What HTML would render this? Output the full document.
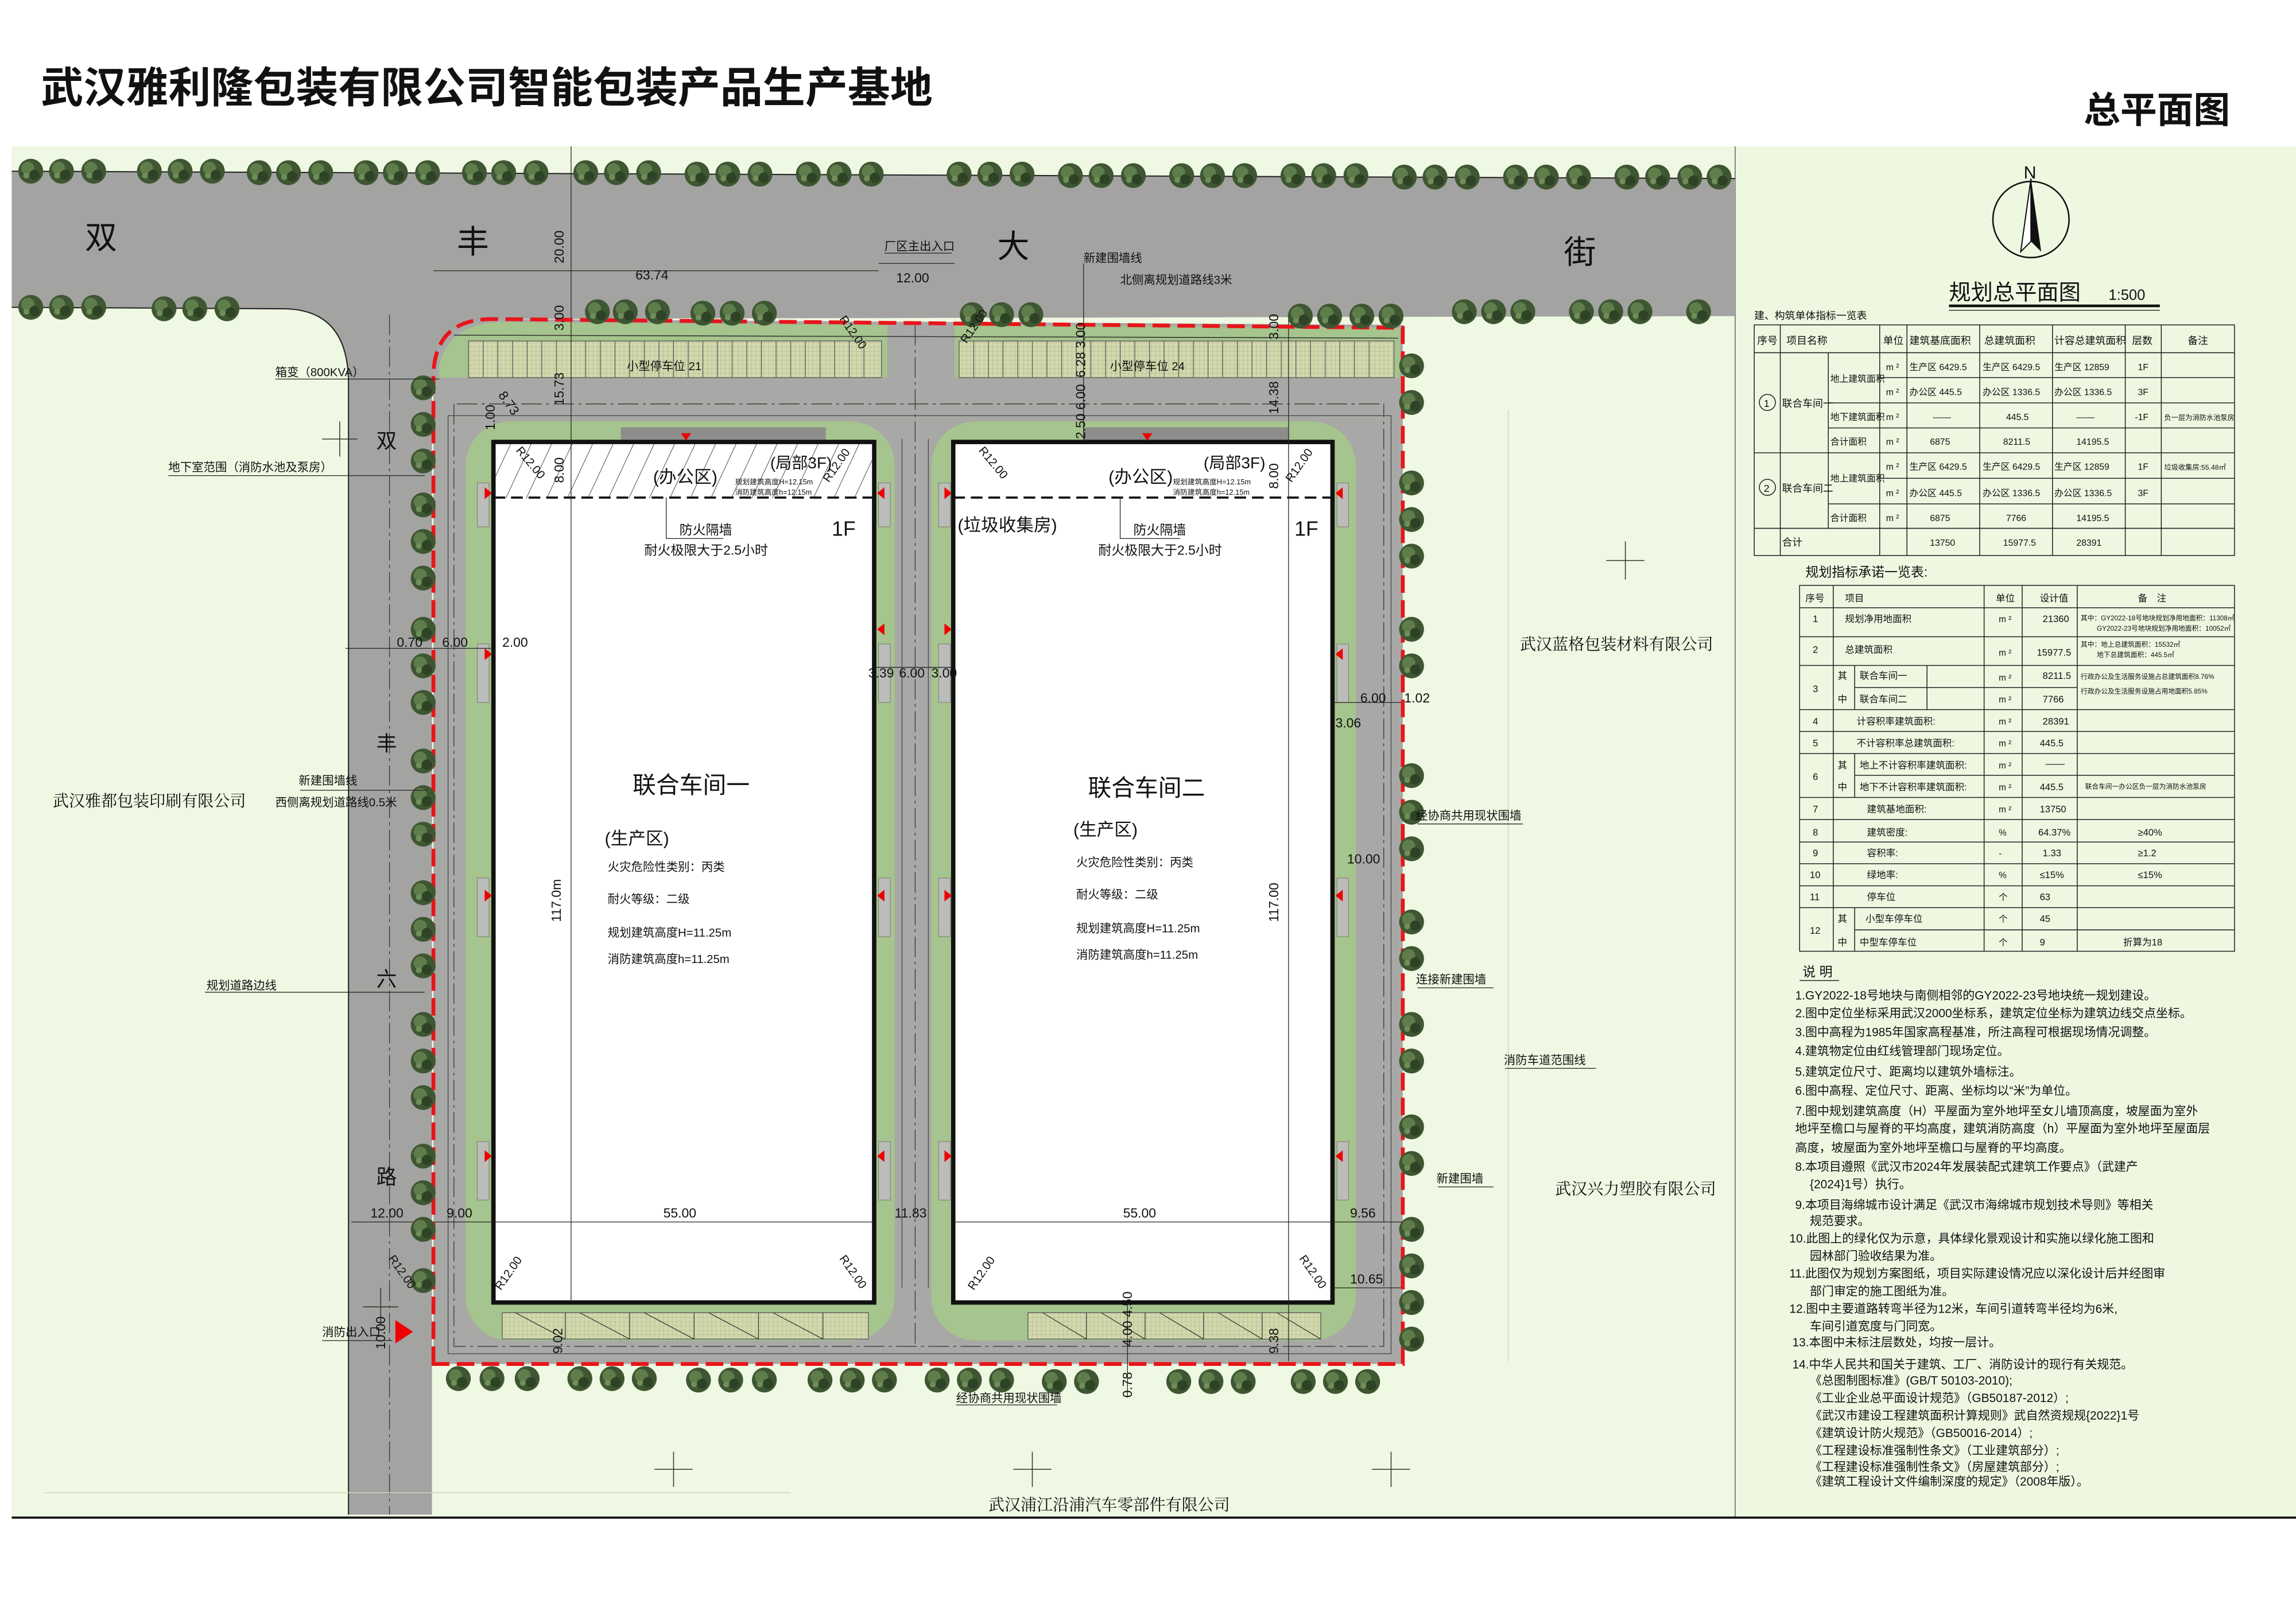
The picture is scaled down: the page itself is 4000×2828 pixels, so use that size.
<!DOCTYPE html>
<html><head><meta charset="utf-8">
<style>
html,body{margin:0;padding:0;background:#fff;}
svg{display:block;}
text{font-family:"Liberation Sans","Noto Sans CJK SC",sans-serif;fill:#111;}
</style></head>
<body>
<svg width="4000" height="2828" viewBox="0 0 1568 1109" preserveAspectRatio="none" xmlns="http://www.w3.org/2000/svg">
<defs>
<pattern id="pk" width="3" height="3" patternUnits="userSpaceOnUse"><rect width="3" height="3" fill="#d3d8ad"/><path d="M0 0H3M0 0V3" stroke="#a9ae85" stroke-width="0.4"/></pattern>
<pattern id="hatch" width="14" height="38" patternUnits="userSpaceOnUse" patternTransform="skewX(-25)"><rect width="14" height="38" fill="#fff"/><line x1="0" y1="0" x2="0" y2="38" stroke="#222" stroke-width="0.7"/></pattern>
<g id="tr"><circle r="8.5" fill="#3e5632"/><circle cx="-2" cy="-2" r="4.5" fill="#5f7d4b"/><circle cx="2.5" cy="2.5" r="3.5" fill="#2e4226"/><circle cx="-3" cy="3" r="2" fill="#6f8e59"/></g>
<g id="rt"><polygon points="0,-4 5,0 0,4" fill="#e00"/></g>
<g id="lt"><polygon points="0,-4 -5,0 0,4" fill="#e00"/></g>
</defs>

<text x="28" y="70" font-size="29" font-weight="bold">武汉雅利隆包装有限公司智能包装产品生产基地</text>
<text x="1423" y="84" font-size="25" font-weight="bold">总平面图</text>

<rect x="8" y="100" width="1177" height="937" fill="#eff8e2"/>
<rect x="1185" y="100" width="383" height="937" fill="#eef8e1"/>
<line x1="1185" y1="100" x2="1185" y2="1037" stroke="#888" stroke-width="0.8"/>
<line x1="8" y1="1037" x2="1568" y2="1037" stroke="#111" stroke-width="1.5"/>

<path d="M8,117 L1185,122 L1185,216 L300,218 L295,230 L295,1035 L238,1035 L238,262 Q238,212 195,211 L8,210 Z" fill="#a3a3a1"/>
<path d="M8,117 L1185,122" stroke="#222" stroke-width="0.8" fill="none"/>
<path d="M8,210 L195,211 Q238,212 238,262 L238,1035" stroke="#222" stroke-width="0.8" fill="none"/>

<rect x="294" y="214" width="50" height="50" fill="#a3a3a1"/>
<path d="M296,932 L296,258 Q296,218 336,218 L958,222 L958,932 Z" fill="#a8a8a6"/>
<path d="M300,258 L300,250 Q306,222 340,220 L606,222 L606,258 Z" fill="#a6c48d"/>
<path d="M652,222 L956,224 L956,258 L652,258 Z" fill="#a6c48d"/>
<rect x="320" y="233" width="282" height="25" fill="url(#pk)" stroke="#555" stroke-width="0.5"/>
<rect x="655" y="233" width="297" height="25" fill="url(#pk)" stroke="#555" stroke-width="0.5"/>
<g stroke="#555" stroke-width="0.5">
<path d="M330,233V258M340,233V258M350,233V258M360,233V258M370,233V258M380,233V258M400,233V258M410,233V258M420,233V258M430,233V258M440,233V258M450,233V258M460,233V258M470,233V258M480,233V258M490,233V258M500,233V258M510,233V258M520,233V258M530,233V258M540,233V258M550,233V258M560,233V258M570,233V258M580,233V258M590,233V258"/>
<path d="M665,233V258M675,233V258M685,233V258M695,233V258M705,233V258M715,233V258M725,233V258M735,233V258M745,233V258M755,233V258M765,233V258M775,233V258M785,233V258M795,233V258M805,233V258M815,233V258M825,233V258M835,233V258M845,233V258M855,233V258M865,233V258M875,233V258M885,233V258M895,233V258M905,233V258M915,233V258M925,233V258M935,233V258"/>
</g>
<path d="M310,229 L955,231" stroke="#333" stroke-width="0.6" fill="none"/>

<rect x="318" y="288" width="293" height="628" rx="30" fill="#a6c48d"/>
<rect x="636" y="288" width="290" height="628" rx="30" fill="#a6c48d"/>
<rect x="424" y="292" width="140" height="10" fill="#8d8d8b"/>
<rect x="740" y="292" width="140" height="10" fill="#8d8d8b"/>
<rect x="343" y="897" width="250" height="18" fill="url(#pk)" stroke="#555" stroke-width="0.5"/>
<rect x="702" y="897" width="200" height="18" fill="url(#pk)" stroke="#555" stroke-width="0.5"/>
<g stroke="#333" stroke-width="0.5">
<path d="M386,897V915M430,897V915M474,897V915M518,897V915M562,897V915M352,897L386,915M396,897L430,915M440,897L474,915M484,897L518,915M528,897L562,915"/>
<path d="M742,897V915M782,897V915M822,897V915M862,897V915M712,897L742,915M752,897L782,915M792,897L822,915M832,897L862,915M872,897L902,915"/>
</g>
<g fill="#bcbcba" stroke="#666" stroke-width="0.3">
<rect x="326" y="330" width="8" height="30"/><rect x="326" y="440" width="8" height="40"/><rect x="326" y="600" width="8" height="40"/><rect x="326" y="780" width="8" height="40"/>
<rect x="600" y="330" width="8" height="30"/><rect x="600" y="440" width="8" height="40"/><rect x="600" y="600" width="8" height="40"/><rect x="600" y="780" width="8" height="40"/>
<rect x="641" y="330" width="8" height="30"/><rect x="641" y="440" width="8" height="40"/><rect x="641" y="600" width="8" height="40"/><rect x="641" y="780" width="8" height="40"/>
<rect x="913" y="330" width="8" height="30"/><rect x="913" y="440" width="8" height="40"/><rect x="913" y="600" width="8" height="40"/><rect x="913" y="780" width="8" height="40"/>
</g>

<g stroke="#333" stroke-width="0.5" stroke-dasharray="14,3,2,3" fill="none">
<path d="M312,276 L945,276"/><path d="M310,276 L310,920 L945,920 L945,276"/>
<path d="M625,222 L625,920"/>
<path d="M266,215 L266,1035"/>
</g>
<g stroke="#444" stroke-width="0.5" fill="none">
<path d="M306,284 L306,925 L950,925 L950,284 Z"/>
<path d="M616,300 L616,880 M634,300 L634,880"/>
</g>

<rect x="337" y="302" width="260" height="588" fill="#fff" stroke="#111" stroke-width="3"/>
<rect x="338.5" y="303.5" width="257" height="37" fill="url(#hatch)"/>
<line x1="337" y1="340" x2="597" y2="340" stroke="#111" stroke-width="1.5" stroke-dasharray="8,4"/>
<rect x="651" y="302" width="259" height="588" fill="#fff" stroke="#111" stroke-width="3"/>
<line x1="651" y1="340" x2="910" y2="340" stroke="#111" stroke-width="1.5" stroke-dasharray="8,4"/>
<line x1="390" y1="100" x2="390" y2="890" stroke="#222" stroke-width="0.5"/>
<line x1="880" y1="215" x2="880" y2="930" stroke="#222" stroke-width="0.5"/>
<line x1="740" y1="180" x2="740" y2="302" stroke="#222" stroke-width="0.5"/>
<line x1="337" y1="835" x2="597" y2="835" stroke="#222" stroke-width="0.5"/>
<line x1="651" y1="835" x2="910" y2="835" stroke="#222" stroke-width="0.5"/>
<line x1="240" y1="835" x2="337" y2="835" stroke="#222" stroke-width="0.5"/>
<line x1="910" y1="835" x2="958" y2="835" stroke="#222" stroke-width="0.5"/>
<line x1="597" y1="456" x2="651" y2="456" stroke="#222" stroke-width="0.5"/>
<line x1="236" y1="443" x2="337" y2="443" stroke="#222" stroke-width="0.5"/>
<line x1="910" y1="480" x2="958" y2="480" stroke="#222" stroke-width="0.5"/>
<line x1="910" y1="880" x2="958" y2="880" stroke="#222" stroke-width="0.5"/>
<line x1="296" y1="185" x2="600" y2="185" stroke="#222" stroke-width="0.5"/>
<line x1="600" y1="180" x2="652" y2="180" stroke="#222" stroke-width="0.5"/>
<line x1="770" y1="890" x2="770" y2="955" stroke="#222" stroke-width="0.5"/>

<path d="M296,932 L296,258 Q296,218 336,218 L958,224 L958,932 Z" fill="none" stroke="#e8151b" stroke-width="2.6" stroke-dasharray="12,5"/>
<polygon points="270,902 282,910 270,918" fill="#e00"/>

<g>
<use href="#rt" x="331" y="337"/><use href="#rt" x="331" y="447"/><use href="#rt" x="331" y="612"/><use href="#rt" x="331" y="790"/>
<use href="#lt" x="604" y="337"/><use href="#lt" x="604" y="430"/><use href="#lt" x="604" y="612"/><use href="#lt" x="604" y="790"/>
<use href="#rt" x="645" y="337"/><use href="#rt" x="645" y="430"/><use href="#rt" x="645" y="612"/><use href="#rt" x="645" y="790"/>
<use href="#lt" x="917" y="337"/><use href="#lt" x="917" y="447"/><use href="#lt" x="917" y="612"/><use href="#lt" x="917" y="790"/>
<polygon points="465,296 472,296 468.5,301" fill="#e00"/><polygon points="780,296 787,296 783.5,301" fill="#e00"/>
</g>

<g>
<use href="#tr" x="21" y="117"/><use href="#tr" x="42" y="117"/><use href="#tr" x="64" y="117"/>
<use href="#tr" x="102" y="117"/><use href="#tr" x="123" y="117"/><use href="#tr" x="145" y="117"/>
<use href="#tr" x="177" y="118"/><use href="#tr" x="197" y="118"/><use href="#tr" x="219" y="118"/>
<use href="#tr" x="250" y="118"/><use href="#tr" x="270" y="118"/><use href="#tr" x="292" y="118"/>
<use href="#tr" x="324" y="118"/><use href="#tr" x="344" y="118"/><use href="#tr" x="366" y="118"/>
<use href="#tr" x="400" y="118"/><use href="#tr" x="421" y="118"/><use href="#tr" x="443" y="118"/>
<use href="#tr" x="476" y="119"/><use href="#tr" x="497" y="119"/><use href="#tr" x="519" y="119"/>
<use href="#tr" x="552" y="119"/><use href="#tr" x="573" y="119"/><use href="#tr" x="595" y="119"/>
<use href="#tr" x="655" y="119"/><use href="#tr" x="676" y="119"/><use href="#tr" x="698" y="119"/>
<use href="#tr" x="731" y="120"/><use href="#tr" x="752" y="120"/><use href="#tr" x="774" y="120"/>
<use href="#tr" x="807" y="120"/><use href="#tr" x="828" y="120"/><use href="#tr" x="850" y="120"/>
<use href="#tr" x="883" y="120"/><use href="#tr" x="904" y="120"/><use href="#tr" x="926" y="120"/>
<use href="#tr" x="959" y="121"/><use href="#tr" x="980" y="121"/><use href="#tr" x="1002" y="121"/>
<use href="#tr" x="1035" y="121"/><use href="#tr" x="1056" y="121"/><use href="#tr" x="1078" y="121"/>
<use href="#tr" x="1111" y="121"/><use href="#tr" x="1132" y="121"/><use href="#tr" x="1154" y="121"/><use href="#tr" x="1174" y="121"/>
<use href="#tr" x="21" y="210"/><use href="#tr" x="42" y="210"/><use href="#tr" x="64" y="210"/>
<use href="#tr" x="112" y="211"/><use href="#tr" x="133" y="211"/><use href="#tr" x="155" y="211"/>
<use href="#tr" x="1000" y="213"/><use href="#tr" x="1020" y="213"/><use href="#tr" x="1040" y="213"/>
<use href="#tr" x="1080" y="213"/><use href="#tr" x="1100" y="213"/><use href="#tr" x="1120" y="213"/><use href="#tr" x="1160" y="213"/>
<use href="#tr" x="408" y="213"/><use href="#tr" x="427" y="213"/><use href="#tr" x="449" y="213"/><use href="#tr" x="480" y="214"/><use href="#tr" x="500" y="214"/><use href="#tr" x="522" y="214"/>
<use href="#tr" x="664" y="215"/><use href="#tr" x="684" y="215"/><use href="#tr" x="704" y="215"/><use href="#tr" x="888" y="216"/><use href="#tr" x="908" y="216"/><use href="#tr" x="930" y="216"/><use href="#tr" x="950" y="216"/>
<use href="#tr" x="289" y="265"/><use href="#tr" x="289" y="290"/><use href="#tr" x="289" y="315"/><use href="#tr" x="289" y="345"/><use href="#tr" x="289" y="370"/><use href="#tr" x="289" y="395"/><use href="#tr" x="289" y="430"/><use href="#tr" x="289" y="455"/><use href="#tr" x="289" y="480"/><use href="#tr" x="289" y="520"/><use href="#tr" x="289" y="545"/><use href="#tr" x="289" y="570"/><use href="#tr" x="289" y="610"/><use href="#tr" x="289" y="635"/><use href="#tr" x="289" y="660"/><use href="#tr" x="289" y="700"/><use href="#tr" x="289" y="725"/><use href="#tr" x="289" y="750"/><use href="#tr" x="289" y="790"/><use href="#tr" x="289" y="815"/><use href="#tr" x="289" y="840"/><use href="#tr" x="289" y="875"/>
<use href="#tr" x="964" y="250"/><use href="#tr" x="964" y="275"/><use href="#tr" x="964" y="330"/><use href="#tr" x="964" y="355"/><use href="#tr" x="964" y="380"/><use href="#tr" x="964" y="430"/><use href="#tr" x="964" y="455"/><use href="#tr" x="964" y="530"/><use href="#tr" x="964" y="555"/><use href="#tr" x="964" y="580"/><use href="#tr" x="964" y="630"/><use href="#tr" x="964" y="655"/><use href="#tr" x="964" y="700"/><use href="#tr" x="964" y="725"/><use href="#tr" x="964" y="770"/><use href="#tr" x="964" y="795"/><use href="#tr" x="964" y="840"/><use href="#tr" x="964" y="865"/><use href="#tr" x="964" y="890"/><use href="#tr" x="964" y="915"/>
<use href="#tr" x="313" y="942"/><use href="#tr" x="336" y="942"/><use href="#tr" x="360" y="942"/><use href="#tr" x="396" y="942"/><use href="#tr" x="418" y="942"/><use href="#tr" x="440" y="942"/><use href="#tr" x="477" y="943"/><use href="#tr" x="499" y="943"/><use href="#tr" x="522" y="943"/><use href="#tr" x="560" y="943"/><use href="#tr" x="582" y="943"/><use href="#tr" x="604" y="943"/><use href="#tr" x="640" y="943"/><use href="#tr" x="662" y="943"/><use href="#tr" x="684" y="943"/><use href="#tr" x="720" y="944"/><use href="#tr" x="742" y="944"/><use href="#tr" x="805" y="944"/><use href="#tr" x="827" y="944"/><use href="#tr" x="849" y="944"/><use href="#tr" x="890" y="944"/><use href="#tr" x="912" y="944"/><use href="#tr" x="934" y="944"/>
</g>

<g stroke="#333" stroke-width="0.6">
<path d="M232,288V312M220,300H244"/><path d="M1110,370V396M1097,383H1123"/><path d="M460,992V1016M447,1004H473"/><path d="M705,992V1016M692,1004H718"/><path d="M950,992V1016M937,1004H963"/><path d="M260,880V905M248,893H272"/>
</g>
<line x1="30" y1="1020" x2="540" y2="1020" stroke="#ccd6bb" stroke-width="0.6"/>
<line x1="1030" y1="280" x2="1030" y2="930" stroke="#ccd6bb" stroke-width="0.6"/>

<g font-size="22">
<text x="58" y="170">双</text><text x="312" y="173">丰</text><text x="681" y="176">大</text><text x="1068" y="180">街</text>
</g>
<g font-size="14">
<text x="257" y="306">双</text><text x="257" y="513">丰</text><text x="257" y="674">六</text><text x="257" y="809">路</text>
</g>

<text x="432" y="542" font-size="16">联合车间一</text>
<text x="413" y="577" font-size="12">(生产区)</text>
<g font-size="8">
<text x="415" y="595">火灾危险性类别：丙类</text><text x="415" y="617">耐火等级：二级</text><text x="415" y="640">规划建筑高度H=11.25m</text><text x="415" y="658">消防建筑高度h=11.25m</text>
</g>
<text x="743" y="544" font-size="16">联合车间二</text>
<text x="733" y="571" font-size="12">(生产区)</text>
<g font-size="8">
<text x="735" y="592">火灾危险性类别：丙类</text><text x="735" y="614">耐火等级：二级</text><text x="735" y="637">规划建筑高度H=11.25m</text><text x="735" y="655">消防建筑高度h=11.25m</text>
</g>
<text x="446" y="330" font-size="12">(办公区)</text>
<text x="526" y="320" font-size="11">(局部3F)</text>
<text x="502" y="331" font-size="5">规划建筑高度H=12.15m</text><text x="502" y="338" font-size="5">消防建筑高度h=12.15m</text>
<text x="757" y="330" font-size="12">(办公区)</text>
<text x="822" y="320" font-size="11">(局部3F)</text>
<text x="801" y="331" font-size="5">规划建筑高度H=12.15m</text><text x="801" y="338" font-size="5">消防建筑高度h=12.15m</text>
<text x="654" y="363" font-size="12">(垃圾收集房)</text>
<text x="464" y="365" font-size="9">防火隔墙</text><text x="440" y="379" font-size="9">耐火极限大于2.5小时</text>
<text x="774" y="365" font-size="9">防火隔墙</text><text x="750" y="379" font-size="9">耐火极限大于2.5小时</text>
<text x="568" y="366" font-size="14">1F</text><text x="884" y="366" font-size="14">1F</text>
<path d="M455,340V368H494M765,340V368H806" stroke="#222" stroke-width="0.5" fill="none"/>

<g font-size="9">
<text x="434" y="191">63.74</text><text x="612" y="193">12.00</text><text x="604" y="171" font-size="8">厂区主出入口</text>
<text x="740" y="179" font-size="8">新建围墙线</text><text x="765" y="194" font-size="8">北侧离规划道路线3米</text>
<text x="188" y="257" font-size="8">箱变（800KVA）</text><text x="115" y="322" font-size="8">地下室范围（消防水池及泵房）</text>
<text x="271" y="442">0.70</text><text x="302" y="442">6.00</text><text x="343" y="442">2.00</text>
<text x="204" y="536" font-size="8">新建围墙线</text><text x="188" y="551" font-size="8">西侧离规划道路线0.5米</text>
<text x="141" y="676" font-size="8">规划道路边线</text>
<text x="253" y="832">12.00</text><text x="305" y="832">9.00</text><text x="453" y="832">55.00</text><text x="611" y="832">11.83</text><text x="767" y="832">55.00</text><text x="922" y="832">9.56</text>
<text x="220" y="913" font-size="8">消防出入口</text>
<text x="653" y="958" font-size="8">经协商共用现状围墙</text>
<text x="967" y="560" font-size="8">经协商共用现状围墙</text>
<text x="967" y="672" font-size="8">连接新建围墙</text>
<text x="1027" y="727" font-size="8">消防车道范围线</text>
<text x="981" y="808" font-size="8">新建围墙</text>
<text x="593" y="463">3.39</text><text x="614" y="463">6.00</text><text x="636" y="463">3.00</text>
<text x="929" y="480">6.00</text><text x="959" y="480">1.02</text><text x="912" y="497">3.06</text>
<text x="920" y="590">10.00</text><text x="922" y="877">10.65</text>
<text x="428" y="253" font-size="8">小型停车位 21</text><text x="758" y="253" font-size="8">小型停车位 24</text>
</g>
<g font-size="9">
<text transform="translate(385,180) rotate(-90)">20.00</text>
<text transform="translate(385,277) rotate(-90)">15.73</text>
<text transform="translate(385,226) rotate(-90)">3.00</text>
<text transform="translate(385,330) rotate(-90)">8.00</text>
<text transform="translate(383,630) rotate(-90)">117.0m</text>
<text transform="translate(873,630) rotate(-90)">117.00</text>
<text transform="translate(873,334) rotate(-90)">8.00</text>
<text transform="translate(873,283) rotate(-90)">14.38</text>
<text transform="translate(873,232) rotate(-90)">3.00</text>
<text transform="translate(741,258) rotate(-90)">6.28 3.00</text>
<text transform="translate(741,300) rotate(-90)">2.50 6.00</text>
<text transform="translate(384,925) rotate(-90)">9.02</text>
<text transform="translate(873,925) rotate(-90)">9.38</text>
<text transform="translate(773,920) rotate(-90)">4.00 4.50</text>
<text transform="translate(773,955) rotate(-90)">0.78</text>
<text transform="translate(263,922) rotate(-90)">10.00</text>
<text transform="translate(338,294) rotate(-90)">1.00</text>
<text transform="translate(340,270) rotate(55)">8.73</text>
</g>
<g font-size="8">
<text transform="translate(352,308) rotate(50)">R12.00</text>
<text transform="translate(566,330) rotate(-55)">R12.00</text>
<text transform="translate(668,308) rotate(50)">R12.00</text>
<text transform="translate(882,330) rotate(-55)">R12.00</text>
<text transform="translate(573,218) rotate(55)">R12.00</text>
<text transform="translate(660,235) rotate(-55)">R12.00</text>
<text transform="translate(342,882) rotate(-55)">R12.00</text>
<text transform="translate(573,860) rotate(55)">R12.00</text>
<text transform="translate(665,882) rotate(-55)">R12.00</text>
<text transform="translate(887,860) rotate(55)">R12.00</text>
<text transform="translate(265,860) rotate(55)">R12.00</text>
</g>
<g stroke="#222" stroke-width="0.5" fill="none">
<path d="M115,325H290M188,259H300M140,678H290M205,540H292M968,563H1040M968,675H1020M1028,730H1090M982,811H1020M653,960H722M220,916H268M604,173H650"/>
</g>

<g font-size="11">
<text x="36" y="551" style="font-family:'Liberation Serif','Noto Serif CJK SC',serif">武汉雅都包装印刷有限公司</text>
<text x="1038" y="444" style="font-family:'Liberation Serif','Noto Serif CJK SC',serif">武汉蓝格包装材料有限公司</text>
<text x="1062" y="816" style="font-family:'Liberation Serif','Noto Serif CJK SC',serif">武汉兴力塑胶有限公司</text>
<text x="675" y="1032" style="font-family:'Liberation Serif','Noto Serif CJK SC',serif">武汉浦江沿浦汽车零部件有限公司</text>
</g>

<circle cx="1387" cy="150" r="26" fill="none" stroke="#111" stroke-width="1"/>
<polygon points="1387,122 1380,172 1387,165" fill="#fff" stroke="#111" stroke-width="0.8"/>
<polygon points="1387,122 1394,172 1387,165" fill="#111"/>
<text x="1382" y="122" font-size="12">N</text>
<text x="1331" y="205" font-size="15">规划总平面图</text><text x="1440" y="205" font-size="10">1:500</text>
<line x1="1331" y1="209" x2="1475" y2="209" stroke="#111" stroke-width="1.8"/>
<line x1="1331" y1="212" x2="1475" y2="212" stroke="#111" stroke-width="0.5"/>

<text x="1198" y="218" font-size="7">建、构筑单体指标一览表</text>
<g stroke="#222" stroke-width="0.6" fill="none">
<rect x="1198" y="222" width="328" height="157.6"/>
<path d="M1215.8,222V379.6M1283.7,222V379.6M1302.3,222V379.6M1352,222V379.6M1401.7,222V379.6M1451.4,222V379.6M1476,222V379.6M1248.6,241V361"/>
<path d="M1198,241H1526M1283.7,258H1526M1248.6,275.3H1526M1248.6,292.4H1526M1198,309.4H1526M1283.7,326.8H1526M1248.6,344.3H1526M1198,361H1526"/>
</g>
<g font-size="7">
<text x="1200" y="235">序号</text><text x="1220" y="235">项目名称</text><text x="1286" y="235">单位</text><text x="1304" y="235">建筑基底面积</text><text x="1355" y="235">总建筑面积</text><text x="1403" y="235">计容总建筑面积</text><text x="1456" y="235">层数</text><text x="1494" y="235">备注</text>
<text x="1217" y="278">联合车间一</text><text x="1217" y="336">联合车间二</text>
<text x="1217" y="373">合计</text>
</g>
<circle cx="1207" cy="275" r="5.5" fill="none" stroke="#222" stroke-width="0.6"/><text x="1204.5" y="278" font-size="7">1</text>
<circle cx="1207" cy="333" r="5.5" fill="none" stroke="#222" stroke-width="0.6"/><text x="1204.5" y="336" font-size="7">2</text>
<g font-size="6.2">
<text x="1250" y="261">地上建筑面积</text><text x="1250" y="287">地下建筑面积</text><text x="1250" y="304">合计面积</text>
<text x="1250" y="329">地上建筑面积</text><text x="1250" y="356">合计面积</text>
<text x="1288" y="253">m ²</text><text x="1288" y="270">m ²</text><text x="1288" y="287">m ²</text><text x="1288" y="304">m ²</text><text x="1288" y="321">m ²</text><text x="1288" y="339">m ²</text><text x="1288" y="356">m ²</text>
<text x="1304" y="253">生产区  6429.5</text><text x="1304" y="270">办公区  445.5</text><text x="1320" y="287">——</text><text x="1318" y="304">6875</text>
<text x="1354" y="253">生产区  6429.5</text><text x="1354" y="270">办公区  1336.5</text><text x="1370" y="287">445.5</text><text x="1368" y="304">8211.5</text>
<text x="1403" y="253">生产区  12859</text><text x="1403" y="270">办公区  1336.5</text><text x="1418" y="287">——</text><text x="1418" y="304">14195.5</text>
<text x="1460" y="253">1F</text><text x="1460" y="270">3F</text><text x="1458" y="287">-1F</text><text x="1478" y="287" font-size="4.8">负一层为消防水池泵房</text>
<text x="1304" y="321">生产区  6429.5</text><text x="1304" y="339">办公区  445.5</text><text x="1318" y="356">6875</text>
<text x="1354" y="321">生产区  6429.5</text><text x="1354" y="339">办公区  1336.5</text><text x="1370" y="356">7766</text>
<text x="1403" y="321">生产区  12859</text><text x="1403" y="339">办公区  1336.5</text><text x="1418" y="356">14195.5</text>
<text x="1460" y="321">1F</text><text x="1460" y="339">3F</text><text x="1478" y="321" font-size="4.8">垃圾收集房:55.48㎡</text>
<text x="1318" y="373">13750</text><text x="1368" y="373">15977.5</text><text x="1418" y="373">28391</text>
</g>

<text x="1233" y="394" font-size="9">规划指标承诺一览表:</text>
<g stroke="#222" stroke-width="0.6" fill="none">
<rect x="1229" y="400" width="297" height="250"/>
<path d="M1252,400V650M1355,400V650M1381,400V650M1418.6,400V650M1266.6,454.7V484.9M1266.6,514.9V544.9M1266.6,620.2V650M1316,454.7V484.9"/>
<path d="M1229,415.3H1526M1229,435.1H1526M1229,454.7H1526M1266.6,469.8H1418.6M1229,484.9H1526M1229,499.8H1526M1229,514.9H1526M1266.6,529.8H1526M1229,544.9H1526M1229,560H1526M1229,575.4H1526M1229,590.2H1526M1229,605.3H1526M1229,620.2H1526M1266.6,635.4H1526"/>
</g>
<g font-size="6.5">
<text x="1233" y="411">序号</text><text x="1260" y="411">项目</text><text x="1363" y="411">单位</text><text x="1393" y="411">设计值</text><text x="1460" y="411">备　注</text>
<text x="1238" y="425">1</text><text x="1260" y="425">规划净用地面积</text><text x="1395" y="425">21360</text>
<text x="1238" y="446">2</text><text x="1260" y="446">总建筑面积</text><text x="1391" y="448">15977.5</text>
<text x="1238" y="473">3</text><text x="1255" y="464">其</text><text x="1255" y="480">中</text><text x="1270" y="464">联合车间一</text><text x="1270" y="480">联合车间二</text><text x="1395" y="464">8211.5</text><text x="1395" y="480">7766</text>
<text x="1238" y="495">4</text><text x="1268" y="495">计容积率建筑面积:</text><text x="1395" y="495">28391</text>
<text x="1238" y="510">5</text><text x="1268" y="510">不计容积率总建筑面积:</text><text x="1393" y="510">445.5</text>
<text x="1238" y="533">6</text><text x="1255" y="525">其</text><text x="1255" y="540">中</text><text x="1270" y="525">地上不计容积率建筑面积:</text><text x="1270" y="540">地下不计容积率建筑面积:</text><text x="1397" y="524">——</text><text x="1393" y="540">445.5</text>
<text x="1238" y="555">7</text><text x="1275" y="555">建筑基地面积:</text><text x="1393" y="555">13750</text>
<text x="1238" y="571">8</text><text x="1275" y="571">建筑密度:</text><text x="1392" y="571">64.37%</text><text x="1460" y="571">≥40%</text>
<text x="1238" y="585">9</text><text x="1275" y="585">容积率:</text><text x="1395" y="585">1.33</text><text x="1460" y="585">≥1.2</text>
<text x="1236" y="600">10</text><text x="1275" y="600">绿地率:</text><text x="1393" y="600">≤15%</text><text x="1460" y="600">≤15%</text>
<text x="1236" y="615">11</text><text x="1275" y="615">停车位</text><text x="1393" y="615">63</text>
<text x="1236" y="638">12</text><text x="1255" y="630">其</text><text x="1255" y="646">中</text><text x="1274" y="630">小型车停车位</text><text x="1270" y="646">中型车停车位</text><text x="1393" y="630">45</text><text x="1393" y="646">9</text><text x="1450" y="646">折算为18</text>
</g>
<g font-size="6">
<text x="1365" y="425">m ²</text><text x="1365" y="448">m ²</text><text x="1365" y="465">m ²</text><text x="1365" y="480">m ²</text><text x="1365" y="495">m ²</text><text x="1365" y="510">m ²</text><text x="1365" y="525">m ²</text><text x="1365" y="540">m ²</text><text x="1365" y="555">m ²</text><text x="1365" y="571">%</text><text x="1365" y="585">-</text><text x="1365" y="600">%</text><text x="1365" y="615">个</text><text x="1365" y="630">个</text><text x="1365" y="646">个</text>
</g>
<g font-size="4.6">
<text x="1421" y="424">其中：GY2022-18号地块规划净用地面积：11308㎡</text><text x="1432" y="431">GY2022-23号地块规划净用地面积：10052㎡</text>
<text x="1421" y="442">其中：地上总建筑面积：15532㎡</text><text x="1432" y="449">地下总建筑面积：445.5㎡</text>
<text x="1421" y="464">行政办公及生活服务设施占总建筑面积8.76%</text><text x="1421" y="474">行政办公及生活服务设施占用地面积5.85%</text>
<text x="1424" y="539">联合车间一办公区负一层为消防水池泵房</text>
</g>

<text x="1231" y="667" font-size="9">说 明</text>
<line x1="1229" y1="670" x2="1256" y2="670" stroke="#222" stroke-width="0.6"/>
<g font-size="8.2" style="font-family:'Liberation Mono','Noto Sans CJK SC',monospace">
<text x="1226" y="683">1.GY2022-18号地块与南侧相邻的GY2022-23号地块统一规划建设。</text>
<text x="1226" y="695">2.图中定位坐标采用武汉2000坐标系，建筑定位坐标为建筑边线交点坐标。</text>
<text x="1226" y="708">3.图中高程为1985年国家高程基准，所注高程可根据现场情况调整。</text>
<text x="1226" y="721">4.建筑物定位由红线管理部门现场定位。</text>
<text x="1226" y="735">5.建筑定位尺寸、距离均以建筑外墙标注。</text>
<text x="1226" y="748">6.图中高程、定位尺寸、距离、坐标均以“米”为单位。</text>
<text x="1226" y="762">7.图中规划建筑高度（H）平屋面为室外地坪至女儿墙顶高度，坡屋面为室外</text>
<text x="1226" y="774">地坪至檐口与屋脊的平均高度，建筑消防高度（h）平屋面为室外地坪至屋面层</text>
<text x="1226" y="787">高度，坡屋面为室外地坪至檐口与屋脊的平均高度。</text>
<text x="1226" y="800">8.本项目遵照《武汉市2024年发展装配式建筑工作要点》（武建产</text>
<text x="1236" y="812">{2024}1号）执行。</text>
<text x="1226" y="826">9.本项目海绵城市设计满足《武汉市海绵城市规划技术导则》等相关</text>
<text x="1236" y="837">规范要求。</text>
<text x="1222" y="849">10.此图上的绿化仅为示意，具体绿化景观设计和实施以绿化施工图和</text>
<text x="1236" y="861">园林部门验收结果为准。</text>
<text x="1222" y="873">11.此图仅为规划方案图纸，项目实际建设情况应以深化设计后并经图审</text>
<text x="1236" y="885">部门审定的施工图纸为准。</text>
<text x="1222" y="897">12.图中主要道路转弯半径为12米，车间引道转弯半径均为6米,</text>
<text x="1236" y="909">车间引道宽度与门同宽。</text>
<text x="1224" y="920">13.本图中未标注层数处，均按一层计。</text>
<text x="1224" y="935">14.中华人民共和国关于建筑、工厂、消防设计的现行有关规范。</text>
<text x="1236" y="946">《总图制图标准》(GB/T 50103-2010);</text>
<text x="1236" y="958">《工业企业总平面设计规范》（GB50187-2012）;</text>
<text x="1236" y="970">《武汉市建设工程建筑面积计算规则》武自然资规规{2022}1号</text>
<text x="1236" y="982">《建筑设计防火规范》（GB50016-2014）;</text>
<text x="1236" y="994">《工程建设标准强制性条文》（工业建筑部分）;</text>
<text x="1236" y="1005">《工程建设标准强制性条文》（房屋建筑部分）;</text>
<text x="1236" y="1015">《建筑工程设计文件编制深度的规定》（2008年版）。</text>
</g>
</svg>
</body></html>
